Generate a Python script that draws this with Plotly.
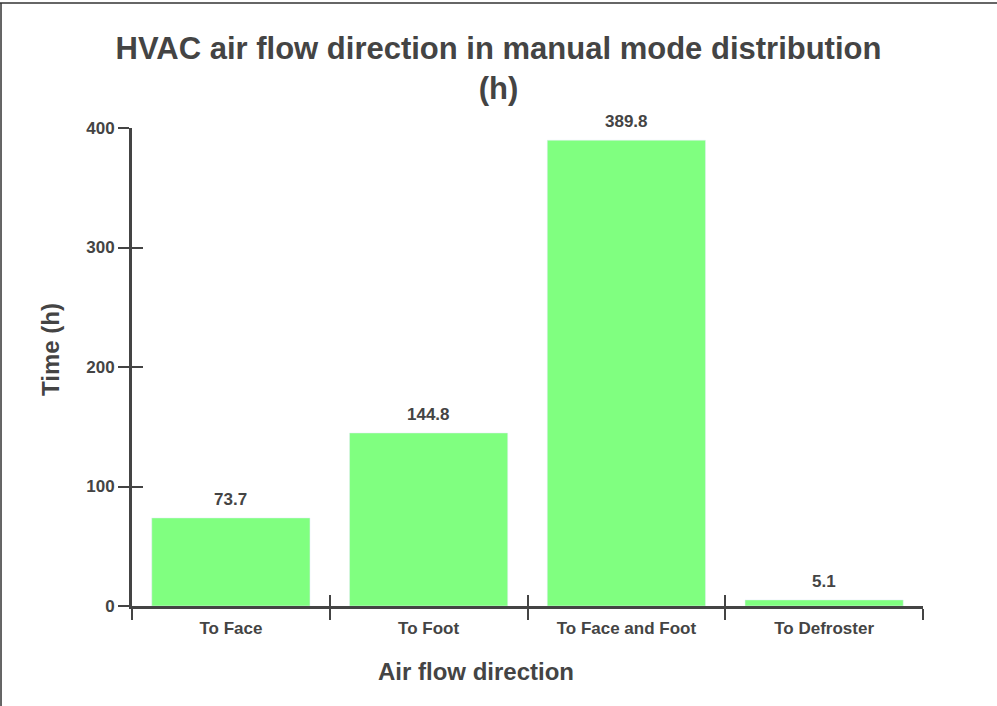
import plotly.graph_objs as go

directions = ["To Face", "To Foot", "To Face and Foot", "To Defroster"]
hours = [73.7, 144.8, 389.8, 5.1]
y_ticks = [0, 100, 200, 300, 400]

font_col = "#444"
fam = "Liberation Sans, Arial, sans-serif"
bold = dict(family=fam, color=font_col, weight="bold")

fig = go.Figure()
fig.add_trace(go.Bar(
    x=directions, y=hours,
    marker_color="#80ff80",
    hoverinfo="x+y",
))
# invisible trace so the overlay axes (inner half of the ticks) get drawn
fig.add_trace(go.Scatter(x=[0], y=[0], xaxis="x2", yaxis="y2",
                         mode="markers", marker_opacity=0, showlegend=False,
                         hoverinfo="skip"))

# value labels above the bars
for d, v in zip(directions, hours):
    fig.add_annotation(x=d, y=v, text=f"{v:.1f}", showarrow=False,
                       yanchor="bottom", yshift=7, font=dict(size=17, **bold))

# axis titles (placed by hand, the reference has them off-centre)
fig.add_annotation(xref="paper", yref="paper", x=0.435, y=-0.138,
                   text="Air flow direction", showarrow=False,
                   xanchor="center", yanchor="middle", font=dict(size=24, **bold))
fig.add_annotation(xref="paper", yref="paper", x=-0.1024, y=0.5356,
                   text="Time (h)", textangle=-90, showarrow=False,
                   xanchor="center", yanchor="middle", font=dict(size=24, **bold))

fig.update_layout(
    width=997, height=706,
    margin=dict(l=132, r=74, t=128, b=100),
    paper_bgcolor="white", plot_bgcolor="white",
    font=dict(family=fam, color=font_col),
    bargap=0.2,
    showlegend=False,
    title=dict(text="HVAC air flow direction in manual mode distribution<br>(h)",
               x=0.5, xanchor="center", y=0.917, yanchor="top",
               font=dict(size=31, **bold)),
    xaxis=dict(tickfont=dict(size=17, **bold), ticklabelstandoff=5,
               showline=True, linecolor=font_col, linewidth=3,
               ticks="outside", ticklen=11, tickwidth=2, tickcolor=font_col,
               tickson="boundaries", showgrid=False),
    yaxis=dict(range=[0, 400], tickvals=y_ticks,
               tickfont=dict(size=17, **bold),
               showline=True, linecolor=font_col, linewidth=3,
               ticks="outside", ticklen=11, tickwidth=2, tickcolor=font_col,
               showgrid=False, zeroline=False),
    xaxis2=dict(overlaying="x", range=[-0.5, 3.5],
                tickvals=[-0.5, 0.5, 1.5, 2.5, 3.5],
                ticks="inside", ticklen=11, tickwidth=2, tickcolor=font_col,
                showticklabels=False, showgrid=False, zeroline=False, anchor="y2"),
    yaxis2=dict(overlaying="y", range=[0, 400], tickvals=y_ticks,
                ticks="inside", ticklen=11, tickwidth=2, tickcolor=font_col,
                showticklabels=False, showgrid=False, zeroline=False, anchor="x2"),
    shapes=[
        dict(type="line", xref="paper", yref="paper",
             x0=-0.167, x1=1.1, y0=1.2615, y1=1.2615,
             line=dict(color="#333", width=1.5)),
        dict(type="line", xref="paper", yref="paper",
             x0=-0.1656, x1=-0.1656, y0=-0.3, y1=1.2615,
             line=dict(color="#333", width=1.5)),
    ],
)

fig.write_html("out.html", config={"displayModeBar": False},
               post_script="document.body.style.margin='0';")
